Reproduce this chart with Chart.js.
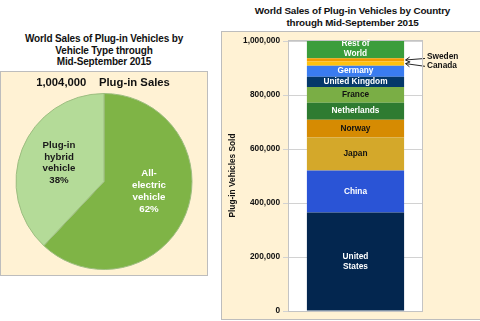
<!DOCTYPE html>
<html>
<head>
<meta charset="utf-8">
<script src="https://cdn.jsdelivr.net/npm/chart.js@4/dist/chart.umd.min.js"></script>
<style>
  body { margin: 0; width: 480px; height: 321px; background: #fff; position: relative; overflow: hidden;
         font-family: "Liberation Sans", Arial, sans-serif; }
  .ttl { position: absolute; text-align: center; font-weight: bold; color: #111; }
  .box { position: absolute; background: #FFF2D4; border: 1px solid #BDBDBD; box-sizing: border-box; }
  .wrap { position: absolute; }
</style>
</head>
<body>

<div class="ttl" style="left:0;top:33px;width:208px;font-size:10px;letter-spacing:-0.15px;line-height:11.5px">World Sales of Plug-in Vehicles by<br>Vehicle Type through<br>Mid-September 2015</div>
<div class="box" style="left:0;top:71px;width:208px;height:205px"></div>
<div class="wrap" style="left:0;top:71px;width:208px;height:204px"><canvas id="pieChart"></canvas></div>

<div class="ttl" style="left:225px;top:5px;width:255px;font-size:9.9px;letter-spacing:-0.15px;line-height:12px">World Sales of Plug-in Vehicles by Country<br>through Mid-September 2015</div>
<div class="box" style="left:221px;top:31px;width:280px;height:289px"></div>
<div class="wrap" style="left:221px;top:31px;width:259px;height:288px"><canvas id="barChart"></canvas></div>

<script>
// ── Données
const totalSales   = '1,004,000';
const vehicleTypes = ['All-electric vehicle', 'Plug-in hybrid vehicle'];
const typeShares   = [62, 38];
const typeLabels   = [['All-', 'electric', 'vehicle', '62%'], ['Plug-in', 'hybrid', 'vehicle', '38%']];
const typeColors   = ['#7FB446', '#B4DB98'];
const typeTextCol  = ['#ffffff', '#1a1a1a'];

const countries     = ['United States', 'China', 'Japan', 'Norway', 'Netherlands', 'France',
                       'United Kingdom', 'Germany', 'Canada', 'Sweden', 'Rest of World'];
const countrySales  = [365000, 156000, 122000, 66000, 63000, 58000, 38000, 41000, 15000, 12000, 68000];
const countryLabels = [['United', 'States'], ['China'], ['Japan'], ['Norway'], ['Netherlands'], ['France'],
                       ['United Kingdom'], ['Germany'], [], [], ['Rest of', 'World']];
const countryColors = ['#03264F', '#2A54D6', '#D4A82A', '#D68B02', '#2E7B31', '#7AAE45',
                       '#04386A', '#3A7CF0', '#FFC20E', '#F39C00', '#3B9D3B'];
const countryTxtCol = ['#fff', '#fff', '#111', '#111', '#fff', '#111', '#fff', '#fff', '#fff', '#fff', '#fff'];
const calloutNames  = ['Sweden', 'Canada'];
const yTicks        = [0, 200000, 400000, 600000, 800000, 1000000];

const FONT = '"Liberation Sans", Arial, sans-serif';

// ── Camembert : titre + étiquettes
const pieText = {
  id: 'pieText',
  afterDatasetsDraw(chart) {
    const ctx = chart.ctx;
    ctx.save();
    ctx.textAlign = 'center';
    ctx.textBaseline = 'middle';
    ctx.fillStyle = '#111';
    ctx.font = 'bold 11.3px ' + FONT;
    ctx.fillText(totalSales + '    Plug-in Sales', 103, 12);

    ctx.font = 'bold 9.7px ' + FONT;
    const dy = [-8, -1];
    chart.getDatasetMeta(0).data.forEach((arc, i) => {
      const p = arc.getProps(['x', 'y', 'startAngle', 'endAngle', 'outerRadius'], true);
      const mid = (p.startAngle + p.endAngle) / 2;
      const cx = p.x + Math.cos(mid) * p.outerRadius * 0.55;
      const cy = p.y + Math.sin(mid) * p.outerRadius * 0.55 + dy[i];
      const lines = typeLabels[i];
      ctx.fillStyle = typeTextCol[i];
      lines.forEach((t, k) => ctx.fillText(t, cx, cy + (k - (lines.length - 1) / 2) * 11.7));
    });
    ctx.restore();
  }
};

new Chart(document.getElementById('pieChart'), {
  type: 'pie',
  data: {
    labels: vehicleTypes,
    datasets: [{ data: typeShares, backgroundColor: typeColors, borderColor: '#9DBD80', borderWidth: 1,
                 hoverOffset: 0 }]
  },
  options: {
    responsive: true, maintainAspectRatio: false, animation: false,
    layout: { padding: { top: 22, bottom: 5 } },
    plugins: { legend: { display: false }, tooltip: { enabled: false } }
  },
  plugins: [pieText]
});

// ── Barres empilées : fond blanc, cadre, étiquettes, flèches
const plotFrame = {
  id: 'plotFrame',
  beforeDraw(chart) {
    const { ctx, chartArea: a } = chart;
    ctx.save();
    ctx.fillStyle = '#fff';
    ctx.fillRect(a.left, a.top, a.right - a.left, a.bottom - a.top);
    ctx.restore();
  },
  afterDraw(chart) {
    const { ctx, chartArea: a } = chart;
    ctx.save();
    ctx.strokeStyle = '#C4C4C4';
    ctx.lineWidth = 1;
    ctx.strokeRect(a.left + 0.5, a.top + 0.5, a.right - a.left - 1, a.bottom - a.top);
    ctx.restore();
  }
};

const segText = {
  id: 'segText',
  afterDatasetsDraw(chart) {
    const ctx = chart.ctx;
    ctx.save();
    ctx.textAlign = 'center';
    ctx.textBaseline = 'middle';
    ctx.font = 'bold 8.3px ' + FONT;
    countries.forEach((c, i) => {
      const el = chart.getDatasetMeta(i).data[0];
      const p = el.getProps(['x', 'y', 'base', 'width'], true);
      const lines = countryLabels[i];
      const cy = (p.y + p.base) / 2;
      ctx.fillStyle = countryTxtCol[i];
      lines.forEach((t, k) => ctx.fillText(t, p.x, cy + (k - (lines.length - 1) / 2) * 10));
    });

    // Suède / Canada : texte à droite + flèches
    const textX = chart.chartArea.right + 4;
    const offs  = [-3, 2.3];
    calloutNames.forEach((name, k) => {
      const idx = countries.indexOf(name);
      const el = chart.getDatasetMeta(idx).data[0];
      const p = el.getProps(['x', 'y', 'base', 'width'], true);
      const segY = (p.y + p.base) / 2;
      const ty = segY + offs[k];
      ctx.fillStyle = '#111';
      ctx.textAlign = 'left';
      ctx.fillText(name, textX, ty);
      const hx = p.x + p.width / 2 + 1.5, hy = segY;
      const tx = textX - 2, tyy = ty + (k === 0 ? 1.5 : 0.4);
      ctx.strokeStyle = '#111';
      ctx.lineWidth = 0.9;
      ctx.beginPath();
      ctx.moveTo(tx, tyy);
      ctx.lineTo(hx, hy);
      const ang = Math.atan2(tyy - hy, tx - hx);
      ctx.moveTo(hx + Math.cos(ang + 0.55) * 5, hy + Math.sin(ang + 0.55) * 5);
      ctx.lineTo(hx, hy);
      ctx.lineTo(hx + Math.cos(ang - 0.55) * 5, hy + Math.sin(ang - 0.55) * 5);
      ctx.stroke();
    });
    ctx.restore();
  }
};

new Chart(document.getElementById('barChart'), {
  type: 'bar',
  data: {
    labels: ['Plug-in'],
    datasets: countries.map((c, i) => ({
      label: c,
      data: [countrySales[i]],
      backgroundColor: countryColors[i],
      borderWidth: 0,
      barPercentage: 0.72,
      categoryPercentage: 1
    }))
  },
  options: {
    responsive: true, maintainAspectRatio: false, animation: false,
    layout: { padding: { left: 0, right: 57, top: 9, bottom: 7 } },
    plugins: { legend: { display: false }, tooltip: { enabled: false } },
    scales: {
      x: { stacked: true, display: false },
      y: {
        stacked: true, min: 0, max: 1004000,
        afterBuildTicks: s => { s.ticks = yTicks.map(v => ({ value: v })); },
        afterFit: s => { s.width = 67; },
        ticks: {
          color: '#111', padding: 3,
          font: { family: FONT, size: 8.3, weight: 'bold' },
          callback: v => v.toLocaleString('en-US')
        },
        grid: { color: '#D2D2D2', tickLength: 5 },
        border: { color: '#C4C4C4' },
        title: {
          display: true, text: 'Plug-in Vehicles Sold', color: '#111',
          font: { family: FONT, size: 8.3, weight: 'bold' },
          padding: { top: 7, bottom: 0 }
        }
      }
    }
  },
  plugins: [plotFrame, segText]
});
</script>
</body>
</html>
